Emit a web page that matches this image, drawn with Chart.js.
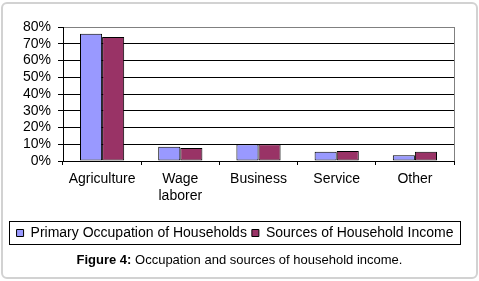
<!DOCTYPE html>
<html>
<head>
<meta charset="utf-8">
<script src="https://cdn.jsdelivr.net/npm/chart.js@4/dist/chart.umd.min.js"></script>
<style>
  html, body { margin: 0; padding: 0; background: #ffffff; }
  #wrap { position: relative; width: 479px; height: 281px; overflow: hidden; }
  #frame { position: absolute; left: 1px; top: 2px; width: 473px; height: 273px; border: 2px solid #d2d2d2; border-radius: 6px; }
  #c { position: absolute; left: 0; top: 0; }
  #cap { position: absolute; left: 0; top: 252px; width: 479px; text-align: center; font: 13px "Liberation Sans", Arial, sans-serif; color: #000; }
</style>
</head>
<body>
<div id="wrap">
  <div id="frame"></div>
  <canvas id="c" width="479" height="281"></canvas>
  <div id="cap"><b>Figure 4:</b> Occupation and sources of household income.</div>
</div>
<script>
const categories = ['Agriculture', ['Wage', 'laborer'], 'Business', 'Service', 'Other'];
const primaryOccupation = [76, 8.5, 10, 5.5, 3.5];
const incomeSources = [74, 7.8, 10, 6, 5.5];
const seriesNames = ['Primary Occupation of Households', 'Sources of Household Income'];
const yMin = 0, yMax = 80, yStep = 10;

const FONT = '"Liberation Sans", Arial, sans-serif';

const decor = {
  id: 'decor',
  afterLayout(chart) {
    const lg = chart.legend;
    if (lg) { lg.left += 8; lg.right += 8; }
  },
  afterDraw(chart) {
    const ctx = chart.ctx;
    const a = chart.chartArea;
    ctx.save();
    ctx.strokeStyle = '#808080';
    ctx.lineWidth = 1;
    ctx.beginPath();
    ctx.moveTo(Math.round(a.right) + 0.5, a.top);
    ctx.lineTo(Math.round(a.right) + 0.5, a.bottom);
    ctx.stroke();
    const lg = chart.legend;
    const boxes = lg.legendHitBoxes;
    if (boxes && boxes.length) {
      const first = boxes[0], last = boxes[boxes.length - 1];
      const x0 = first.left - 8, x1 = last.left + last.width + 6;
      const y0 = first.top - 5, y1 = first.top + first.height + 4;
      ctx.strokeStyle = '#000';
      ctx.strokeRect(Math.round(x0) + 0.5, Math.round(y0) + 0.5, Math.round(x1 - x0), Math.round(y1 - y0));
    }
    ctx.restore();
  }
};

new Chart(document.getElementById('c'), {
  type: 'bar',
  data: {
    labels: categories,
    datasets: [
      { label: seriesNames[0], data: primaryOccupation, backgroundColor: '#9999FF', borderColor: '#000', borderWidth: 1, borderSkipped: false },
      { label: seriesNames[1], data: incomeSources, backgroundColor: '#993366', borderColor: '#000', borderWidth: 1, borderSkipped: false }
    ]
  },
  options: {
    responsive: false,
    animation: false,
    events: [],
    layout: { padding: { left: 0, right: 25, top: 27, bottom: 31 } },
    datasets: { bar: { categoryPercentage: 0.565, barPercentage: 1.0 } },
    plugins: {
      legend: {
        position: 'bottom',
        labels: {
          boxWidth: 7, boxHeight: 7, padding: 5,
          color: '#000',
          font: { family: FONT, size: 14 }
        }
      },
      tooltip: { enabled: false },
      title: { display: false }
    },
    scales: {
      x: {
        grid: { display: true, drawOnChartArea: false, drawTicks: true, tickLength: 4, color: '#000', offset: true },
        border: { display: true, color: '#000', width: 1 },
        ticks: { color: '#000', padding: 5, maxRotation: 0, autoSkip: false, font: { family: FONT, size: 14, lineHeight: 1.25 } },
        afterFit(s) { s.height = 60; }
      },
      y: {
        min: yMin, max: yMax,
        grid: {
          color: (c) => (c.tick && c.tick.value === yMax ? '#808080' : '#000'),
          tickColor: '#000',
          drawTicks: true, tickLength: 5, lineWidth: 1
        },
        border: { display: true, color: '#000', width: 1 },
        ticks: { color: '#000', padding: 7, stepSize: yStep, autoSkip: false, callback: (v) => v + '%', font: { family: FONT, size: 14 } },
        afterFit(s) { s.width = 63; }
      }
    }
  },
  plugins: [decor]
});
</script>
</body>
</html>
